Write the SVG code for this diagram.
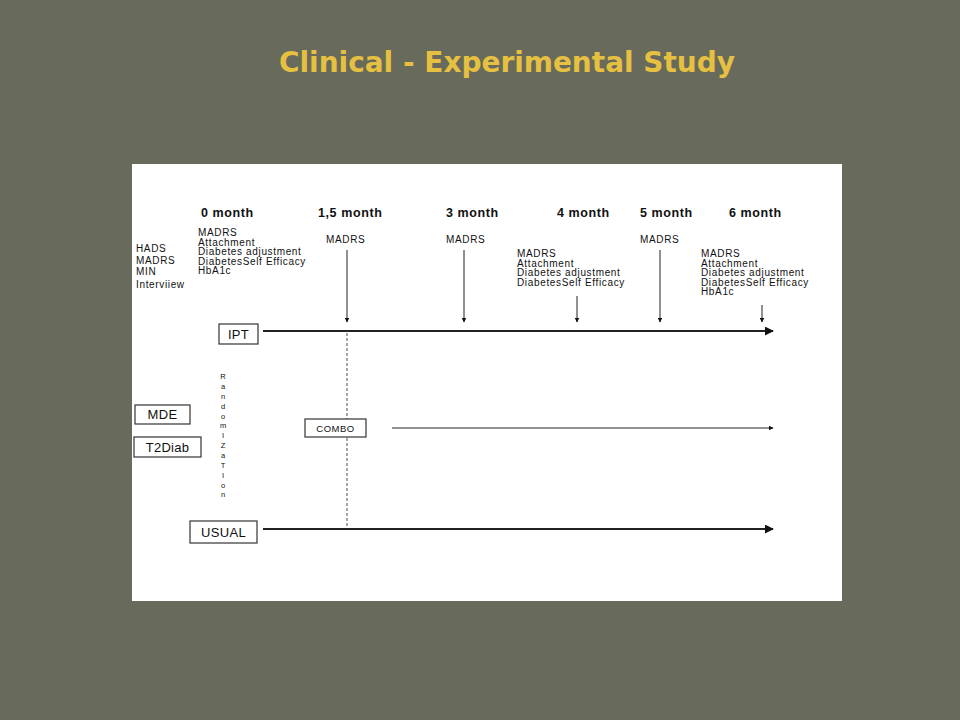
<svg xmlns="http://www.w3.org/2000/svg" width="960" height="720" viewBox="0 0 960 720">
<defs>
<style>
.t{font-family:"Liberation Sans",Arial,sans-serif;fill:#111;}
.s{font-size:10px;letter-spacing:0.65px;}
.h{font-size:12.5px;font-weight:bold;letter-spacing:0.6px;}
.box{fill:#fff;stroke:#333;stroke-width:1.2;}
.bl{font-size:13px;letter-spacing:0.3px;}
.ln{stroke:#222;fill:none;}
</style>
<marker id="ah" viewBox="0 0 10 10" refX="9" refY="5" markerWidth="5" markerHeight="5" orient="auto" markerUnits="userSpaceOnUse"><path d="M0,0L10,5L0,10z" fill="#111"/></marker>
<marker id="ahb" viewBox="0 0 10 10" refX="9" refY="5" markerWidth="9" markerHeight="9" orient="auto" markerUnits="userSpaceOnUse"><path d="M0,0L10,5L0,10z" fill="#111"/></marker>
</defs>
<rect width="960" height="720" fill="#686a5c"/>
<text x="507" y="72" text-anchor="middle" font-family="'Comic Sans MS','DejaVu Sans',sans-serif" font-weight="bold" font-size="28" fill="#e6c040" textLength="456" lengthAdjust="spacingAndGlyphs">Clinical - Experimental Study</text>
<rect x="132" y="164" width="710" height="437" fill="#fff"/>
<g id="headers" class="t h">
<text x="201" y="217">0 month</text>
<text x="318" y="217">1,5 month</text>
<text x="446" y="217">3 month</text>
<text x="557" y="217">4 month</text>
<text x="640" y="217">5 month</text>
<text x="729" y="217">6 month</text>
</g>
<g id="baseline-list" class="t s">
<text x="136" y="252">HADS</text>
<text x="136" y="264">MADRS</text>
<text x="136" y="275">MIN</text>
<text x="136" y="288">Interviiew</text>
</g>
<g id="m0-list" class="t s">
<text x="198" y="236">MADRS</text>
<text x="198" y="245.5">Attachment</text>
<text x="198" y="255">Diabetes adjustment</text>
<text x="198" y="264.5">DiabetesSelf Efficacy</text>
<text x="198" y="274">HbA1c</text>
</g>
<g id="m15-list" class="t s"><text x="326" y="243">MADRS</text></g>
<g id="m3-list" class="t s"><text x="446" y="243">MADRS</text></g>
<g id="m4-list" class="t s">
<text x="517" y="257">MADRS</text>
<text x="517" y="266.5">Attachment</text>
<text x="517" y="276">Diabetes adjustment</text>
<text x="517" y="285.5">DiabetesSelf Efficacy</text>
</g>
<g id="m5-list" class="t s"><text x="640" y="243">MADRS</text></g>
<g id="m6-list" class="t s">
<text x="701" y="257">MADRS</text>
<text x="701" y="266.5">Attachment</text>
<text x="701" y="276">Diabetes adjustment</text>
<text x="701" y="285.5">DiabetesSelf Efficacy</text>
<text x="701" y="295">HbA1c</text>
</g>
<g id="connectors">
<line class="ln" x1="347" y1="250" x2="347" y2="322" stroke-width="1" marker-end="url(#ah)"/>
<line class="ln" x1="464" y1="250" x2="464" y2="322" stroke-width="1" marker-end="url(#ah)"/>
<line class="ln" x1="577" y1="296" x2="577" y2="322" stroke-width="1" marker-end="url(#ah)"/>
<line class="ln" x1="660" y1="250" x2="660" y2="322" stroke-width="1" marker-end="url(#ah)"/>
<line class="ln" x1="762" y1="305" x2="762" y2="322" stroke-width="1" marker-end="url(#ah)"/>
<line class="ln" x1="263" y1="331" x2="773" y2="331" stroke-width="2" marker-end="url(#ahb)"/>
<line class="ln" x1="392" y1="428" x2="773" y2="428" stroke-width="1" marker-end="url(#ah)"/>
<line class="ln" x1="263" y1="529" x2="773" y2="529" stroke-width="2" marker-end="url(#ahb)"/>
<line x1="347" y1="333" x2="347" y2="528" stroke="#888" stroke-width="1.5" stroke-dasharray="3,2"/>
</g>
<g id="ipt"><rect class="box" x="219" y="324" width="39" height="20"/><text class="t bl" x="238.5" y="339" text-anchor="middle">IPT</text></g>
<g id="mde"><rect class="box" x="135" y="405" width="55" height="19"/><text class="t bl" x="162.5" y="419" text-anchor="middle">MDE</text></g>
<g id="t2diab"><rect class="box" x="134" y="437" width="67" height="20"/><text class="t bl" x="167.5" y="452" text-anchor="middle">T2Diab</text></g>
<g id="combo"><rect class="box" x="305" y="419" width="61" height="18"/><text class="t" font-size="9.5" letter-spacing="0.5" x="335.5" y="432" text-anchor="middle">COMBO</text></g>
<g id="usual"><rect class="box" x="190" y="521" width="67" height="22"/><text class="t bl" x="223.5" y="537" text-anchor="middle">USUAL</text></g>
<g id="randomization" class="t" font-size="7.5" text-anchor="middle">
<text x="223" y="379">R</text>
<text x="223" y="389">a</text>
<text x="223" y="399">n</text>
<text x="223" y="409">d</text>
<text x="223" y="419">o</text>
<text x="223" y="428">m</text>
<text x="223" y="438">I</text>
<text x="223" y="448">Z</text>
<text x="223" y="458">a</text>
<text x="223" y="468">T</text>
<text x="223" y="478">I</text>
<text x="223" y="488">o</text>
<text x="223" y="497">n</text>
</g>
</svg>
